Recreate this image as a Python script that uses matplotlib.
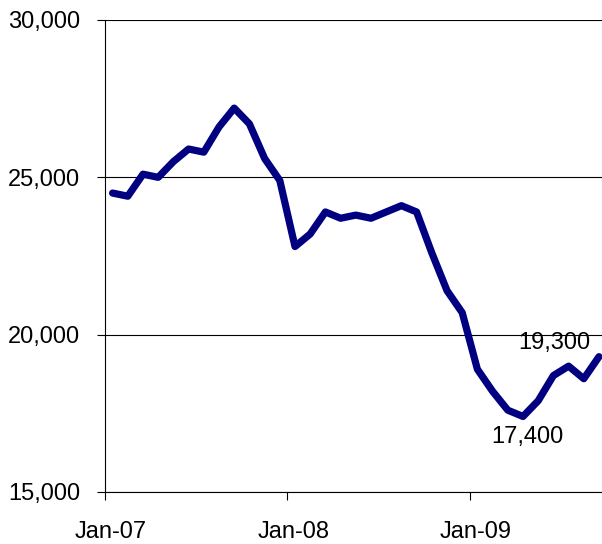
import matplotlib
matplotlib.use("Agg")
import matplotlib.pyplot as plt
import matplotlib.transforms as mtransforms
import numpy as np

plt.rcParams['font.family'] = ['Liberation Sans', 'DejaVu Sans']

months = ["Jan-07", "Feb-07", "Mar-07", "Apr-07", "May-07", "Jun-07", "Jul-07", "Aug-07",
          "Sep-07", "Oct-07", "Nov-07", "Dec-07", "Jan-08", "Feb-08", "Mar-08", "Apr-08",
          "May-08", "Jun-08", "Jul-08", "Aug-08", "Sep-08", "Oct-08", "Nov-08", "Dec-08",
          "Jan-09", "Feb-09", "Mar-09", "Apr-09", "May-09", "Jun-09", "Jul-09", "Aug-09",
          "Sep-09"]
values = [24500, 24400, 25100, 25000, 25500, 25900, 25800, 26600, 27200, 26700, 25600, 24900,
          22800, 23200, 23900, 23700, 23800, 23700, 23900, 24100, 23900, 22600, 21400, 20700,
          18900, 18200, 17600, 17400, 17900, 18700, 19000, 18600, 19300]
tick_labels = ["Jan-07", "Jan-08", "Jan-09"]
y_ticks = [15000, 20000, 25000, 30000]

W, H = 602, 544
fig = plt.figure(figsize=(W / 100, H / 100), dpi=100)
left, top, bottom = 105, 20, 492
pxm = 15.2
ax = fig.add_axes([left / W, 1 - bottom / H, len(months) * pxm / W, (bottom - top) / H])

x = np.arange(len(months))
ax.plot(x, values, color='#000080', linewidth=5.2, solid_joinstyle='round',
        solid_capstyle='round', clip_on=False, zorder=3)

ax.set_xlim(-0.5, len(months) - 0.5)
ax.set_ylim(15000, 30000)
ax.set_yticks(y_ticks)
ax.set_yticklabels([f"{v:,}" for v in y_ticks])
tick_pos = [months.index(t) - 0.5 for t in tick_labels]
ax.set_xticks(tick_pos)
ax.set_xticklabels(tick_labels)
ax.grid(axis='y', color='black', linewidth=0.8)
ax.set_axisbelow(True)
for s in ['top', 'right']:
    ax.spines[s].set_visible(False)
for s in ['left', 'bottom']:
    ax.spines[s].set_color('black')
    ax.spines[s].set_linewidth(0.8)
ax.tick_params(axis='both', labelsize=17, length=5.8, width=0.8, color='black', direction='out')
ax.tick_params(axis='x', pad=15)
ax.tick_params(axis='y', pad=12)

shift = mtransforms.ScaledTranslation(6 / 100, 0, fig.dpi_scale_trans)
for lab in ax.get_xticklabels():
    lab.set_transform(lab.get_transform() + shift)

imin = int(np.argmin(values))
ilast = len(values) - 1
ax.annotate(f"{values[ilast]:,}", (x[ilast], values[ilast]), xytext=(-32, 10),
            textcoords='offset points', ha='center', va='center', fontsize=17)
ax.annotate(f"{values[imin]:,}", (x[imin], values[imin]), xytext=(3.5, -14.5),
            textcoords='offset points', ha='center', va='center', fontsize=17)

fig.savefig("out.png", dpi=100)
